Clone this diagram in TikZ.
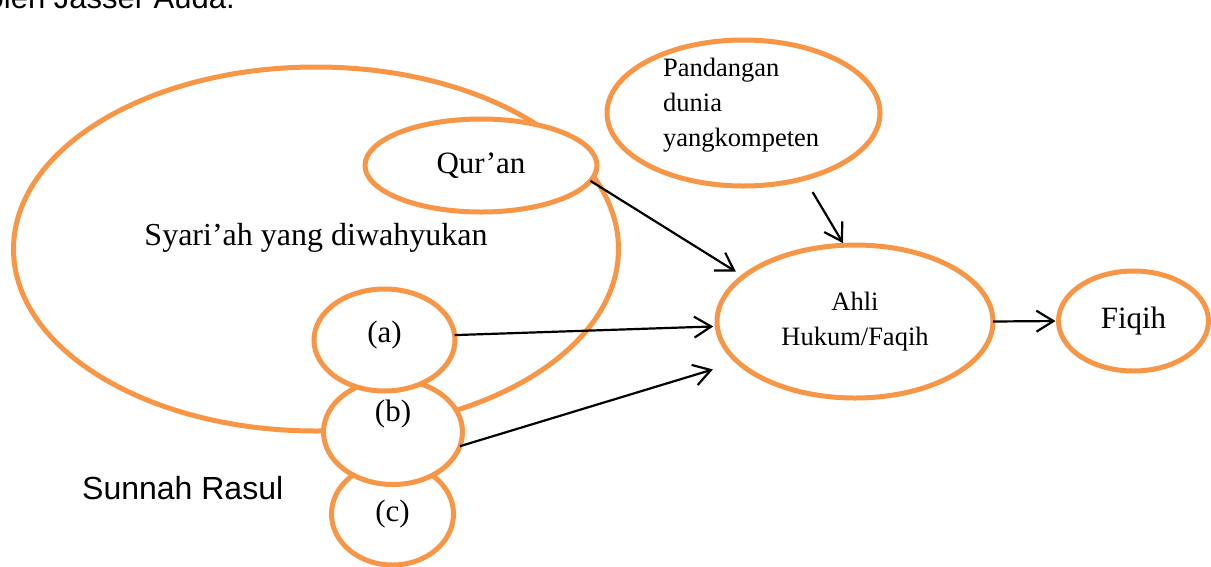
\documentclass[tikz,border=0pt]{standalone}
\usepackage{fontspec}
\setmainfont{Liberation Serif}
\newfontfamily\arialfont{Liberation Sans}
\usetikzlibrary{shapes.geometric,arrows.meta,positioning}
\definecolor{ovalorange}{RGB}{247,150,70}

\begin{document}
\begin{tikzpicture}[x=1pt, y=-1pt,
    oval/.style={draw=ovalorange, line width=5pt, fill=white, ellipse, inner sep=0pt, outer sep=0pt},
    arr/.style={line width=2.2pt, -{Straight Barb[length=17pt,width=21pt]}},
    bigtext/.style={font=\fontsize{31}{37}\selectfont},
    smalltext/.style={font=\fontsize{26.5}{35}\selectfont, align=center}]
    \useasboundingbox (0,0) rectangle (1211,566);
    \clip (0,0) rectangle (1211,566);

    % Heading, cut off at the top
    \node[font=\arialfont\fontsize{31}{37}\selectfont, anchor=base east, inner sep=0pt] (author) at (235,8) {oleh Jasser Auda.};

    % Revealed shari'ah and its sources
    \node[oval, minimum width=605pt, minimum height=364pt] (syariah) at (316,249) {};
    \node[bigtext, font=\fontsize{32}{38}\selectfont] (syariahtxt) at (316,237.5) {Syari’ah yang diwahyukan};

    \node[oval, bigtext, minimum width=122pt, minimum height=102pt] (c) at (392.5,514) {(c)};
    \node[oval, minimum width=139pt, minimum height=105pt] (b) at (393,432) {};
    \node[bigtext] (btxt) at ([yshift=18pt]b.center) {(b)};
    \node[oval, minimum width=141pt, minimum height=102pt] (a) at (384.5,340) {};
    \node[bigtext] (atxt) at ([yshift=5pt]a.center) {(a)};
    \node[oval, bigtext, minimum width=232pt, minimum height=93pt] (quran) at (481,165.5) {Qur’an};

    \node[font=\arialfont\fontsize{32}{38}\selectfont, anchor=west, inner sep=0pt] (sunnah) at (82,488) {Sunnah Rasul};

    % Worldview, jurist and fiqh
    \node[oval, minimum width=273pt, minimum height=146pt] (pandangan) at (743.5,113) {};
    \node[smalltext, align=left, anchor=west, inner sep=0pt] (pandtxt) at (663,105.5) {Pandangan\\dunia\\yangkompeten};

    \node[oval, smalltext, minimum width=276pt, minimum height=153pt] (ahli) at (855,321.5) {Ahli\\Hukum/Faqih};
    \node[oval, bigtext, minimum width=150pt, minimum height=100pt] (fiqih) at (1133.5,321) {Fiqih};

    % Arrows
    \draw[arr, shorten >=9pt] (quran.-8) -- (ahli.158);
    \draw[arr, shorten <=16pt, shorten >=2.5pt] (pandangan.-47) -- (ahli.98);
    \draw[arr, shorten >=4pt] (a.4) -- (ahli.182);
    \draw[arr, shorten >=26pt] (b.-12) -- (ahli.199);
    \draw[arr, shorten >=3pt] (ahli.east) -- (fiqih.west);
\end{tikzpicture}
\end{document}
